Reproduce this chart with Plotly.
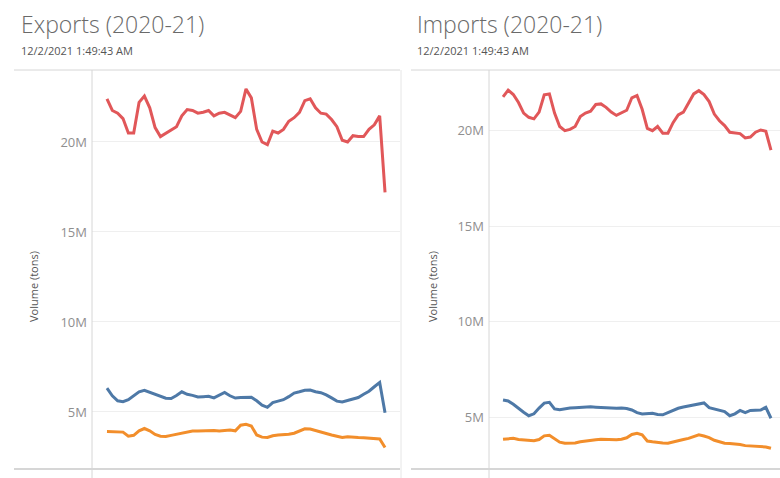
import plotly.graph_objects as go

# weekly points across 2020-21
weeks = list(range(1, 54))

# Exports, million tons per series
exp_red = [22.4, 21.75, 21.6, 21.3, 20.5, 20.5, 22.2, 22.55, 21.9, 20.8,
           20.3, 20.5, 20.65, 20.85, 21.45, 21.8, 21.75, 21.6, 21.65, 21.75,
           21.45, 21.6, 21.65, 21.5, 21.35, 21.7, 22.95, 22.45, 20.7, 20.0,
           19.85, 20.6, 20.5, 20.7, 21.15, 21.35, 21.65, 22.3, 22.4, 21.9,
           21.6, 21.55, 21.25, 20.85, 20.1, 20.0, 20.35, 20.3, 20.3, 20.7,
           20.95, 21.45, 17.2]
exp_blue = [6.32, 5.9, 5.62, 5.57, 5.68, 5.9, 6.12, 6.2, 6.09, 5.95,
            5.84, 5.76, 5.75, 5.91, 6.12, 5.98, 5.92, 5.83, 5.85, 5.87,
            5.78, 5.93, 6.08, 5.9, 5.77, 5.8, 5.8, 5.82, 5.62, 5.38,
            5.26, 5.52, 5.6, 5.68, 5.85, 6.05, 6.12, 6.2, 6.22, 6.12,
            6.07, 5.95, 5.78, 5.6, 5.55, 5.62, 5.7, 5.8, 5.98, 6.15,
            6.4, 6.64, 4.95]
exp_orange = [3.91, 3.91, 3.91, 3.88, 3.65, 3.7, 3.95, 4.08, 3.95, 3.75,
              3.65, 3.64, 3.7, 3.75, 3.8, 3.88, 3.94, 3.94, 3.96, 3.99,
              3.97, 3.94, 3.98, 4.0, 3.95, 4.26, 4.31, 4.22, 3.72, 3.6,
              3.58, 3.68, 3.72, 3.72, 3.76, 3.82, 3.93, 4.06, 4.05, 3.96,
              3.88, 3.8, 3.72, 3.65, 3.58, 3.62, 3.62, 3.58, 3.57, 3.55,
              3.54, 3.5, 3.02]

# Imports
imp_red = [21.75, 22.1, 21.87, 21.45, 20.9, 20.68, 20.6, 20.95, 21.85, 21.9,
           20.9, 20.2, 19.98, 20.05, 20.2, 20.72, 20.9, 21.0, 21.35, 21.38,
           21.2, 20.95, 20.78, 20.9, 21.05, 21.7, 21.82, 21.1, 20.1, 19.98,
           20.2, 19.85, 19.85, 20.4, 20.8, 20.95, 21.4, 21.9, 22.07, 21.87,
           21.5, 20.85, 20.5, 20.25, 19.9, 19.85, 19.83, 19.6, 19.65, 19.9,
           20.02, 19.95, 18.97]
imp_blue = [5.92, 5.87, 5.7, 5.48, 5.28, 5.1, 5.2, 5.5, 5.76, 5.8,
            5.46, 5.41, 5.46, 5.5, 5.52, 5.54, 5.56, 5.57, 5.55, 5.53,
            5.5, 5.49, 5.49, 5.5, 5.48, 5.4, 5.26, 5.19, 5.22, 5.23,
            5.17, 5.15, 5.26, 5.38, 5.49, 5.56, 5.61, 5.64, 5.68, 5.77,
            5.52, 5.46, 5.42, 5.32, 5.1, 5.2, 5.38, 5.26, 5.38, 5.38,
            5.4, 5.54, 4.97]
imp_orange = [3.87, 3.9, 3.92, 3.86, 3.83, 3.8, 3.8, 3.86, 4.05, 4.08,
              3.9, 3.72, 3.66, 3.66, 3.68, 3.74, 3.78, 3.83, 3.85, 3.87,
              3.86, 3.84, 3.85, 3.87, 3.95, 4.12, 4.18, 4.1, 3.78, 3.74,
              3.7, 3.68, 3.67, 3.72, 3.8, 3.86, 3.92, 4.02, 4.1, 4.04,
              3.96, 3.82, 3.74, 3.67, 3.65, 3.63, 3.6, 3.54, 3.52, 3.49,
              3.49, 3.47, 3.4]

tick_vals = [5, 10, 15, 20]
tick_text = ['5M', '10M', '15M', '20M']

RED, BLUE, ORANGE = '#e15759', '#4e79a7', '#f28e2b'
W, H = 780, 478


def px(x):
    return x / W


def py(y):
    return 1 - y / H


fig = go.Figure()
for ser, col in [(exp_red, RED), (exp_blue, BLUE), (exp_orange, ORANGE)]:
    fig.add_trace(go.Scatter(x=weeks, y=ser, mode='lines', line=dict(color=col, width=3),
                             xaxis='x', yaxis='y', showlegend=False))
for ser, col in [(imp_red, RED), (imp_blue, BLUE), (imp_orange, ORANGE)]:
    fig.add_trace(go.Scatter(x=weeks, y=ser, mode='lines', line=dict(color=col, width=3),
                             xaxis='x2', yaxis='y2', showlegend=False))

ydom = [py(469), py(70)]
yax = dict(tickvals=tick_vals, ticktext=tick_text, showgrid=True, gridcolor='#efefef',
           gridwidth=1, zeroline=False, showline=False, ticks='',
           tickfont=dict(family='Open Sans', size=13, color='#8f8f8f'), ticklabelstandoff=4)
xax = dict(showticklabels=False, showgrid=False, zeroline=False, showline=False, ticks='')

fig.update_layout(
    width=W, height=H,
    margin=dict(l=0, r=0, t=0, b=0),
    paper_bgcolor='white', plot_bgcolor='white',
    xaxis=dict(xax, domain=[px(92), px(400)], range=[-1.8, 55.8]),
    yaxis=dict(yax, domain=ydom, range=[1.83, 24.0], anchor='x'),
    xaxis2=dict(xax, domain=[px(489), 1], range=[-1.72, 54.75], anchor='y2'),
    yaxis2=dict(yax, domain=ydom, range=[2.32, 23.15], anchor='x2'),
)

# panel titles, timestamps and axis titles
for x0, name, ytx in [(19, 'Exports (2020-21)', 33), (415, 'Imports (2020-21)', 432)]:
    fig.add_annotation(x=px(x0), y=py(24), xref='paper', yref='paper', xanchor='left', yanchor='middle',
                       text=name, showarrow=False,
                       font=dict(family='Open Sans', size=23, color='#6a6a6a', weight=300))
    fig.add_annotation(x=px(x0), y=py(51), xref='paper', yref='paper', xanchor='left', yanchor='middle',
                       text='12/2/2021 1:49:43 AM', showarrow=False,
                       font=dict(family='Open Sans', size=11, color='#555555'))
    fig.add_annotation(x=px(ytx), y=py(287), xref='paper', yref='paper', xanchor='center', yanchor='middle',
                       text='Volume (tons)', textangle=-90, showarrow=False,
                       font=dict(family='Open Sans', size=11, color='#555555'))

# pane borders
line = dict(color='#d6d6d6', width=1)
for a, b in [(14, 400), (411, 780)]:
    fig.add_shape(type='line', xref='paper', yref='paper', x0=px(a), x1=px(b), y0=py(70), y1=py(70), line=line)
    fig.add_shape(type='line', xref='paper', yref='paper', x0=px(a), x1=px(b), y0=py(469), y1=py(469),
                  line=dict(color='#d6d6d6', width=2))
for xv in [92, 489]:
    fig.add_shape(type='line', xref='paper', yref='paper', x0=px(xv), x1=px(xv), y0=py(70), y1=0, line=line)
fig.add_shape(type='line', xref='paper', yref='paper', x0=px(401), x1=px(401), y0=py(70), y1=0,
              line=dict(color='#e6e6e6', width=1))

# drop the browser's default page margin so the figure sits at the window corner
fig.write_html("out.html", config={'displayModeBar': False},
               post_script="document.body.style.margin='0';")
